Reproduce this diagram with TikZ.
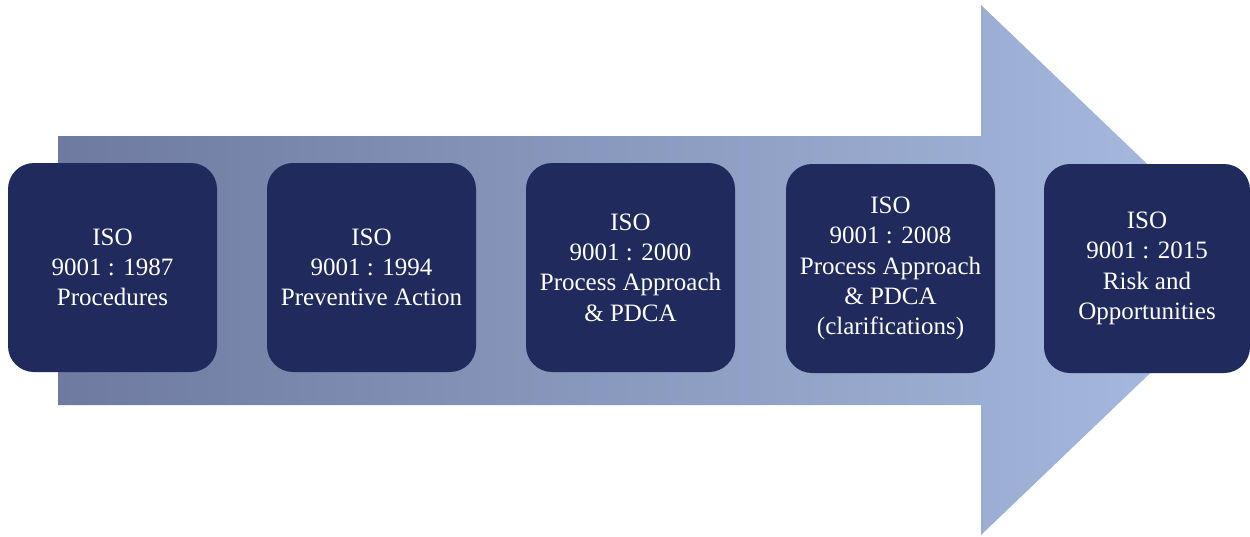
\documentclass[tikz,border=0pt]{standalone}
\usepackage{fontspec}
\setmainfont{Liberation Serif}
\definecolor{boxblue}{RGB}{33,42,92}
\definecolor{arrowleft}{RGB}{110,122,160}
\definecolor{arrowright}{RGB}{170,189,226}
\begin{document}
\begin{tikzpicture}[x=1pt,y=-1pt,
  stagebox/.style={fill=boxblue, rounded corners=26pt, minimum width=209pt,
    minimum height=209pt, inner sep=0pt, text=white, align=center,
    font=\fontsize{25}{30.3}\selectfont}]
  \useasboundingbox (0,0) rectangle (1250,536);
  \clip (0,0) rectangle (1250,536);
  % large block arrow behind the stages
  \shade[left color=arrowleft, right color=arrowright]
    (58,136) -- (981,136) -- (981,5) -- (1258,270) -- (981,535)
    -- (981,405) -- (58,405) -- cycle;
  % stages
  \node[stagebox] (s1) at (112.5,267.5) {ISO\\9001 : 1987\\Procedures};
  \node[stagebox] (s2) at (371.5,267.5) {ISO\\9001 : 1994\\Preventive Action};
  \node[stagebox] (s3) at (630.5,267.5) {ISO\\9001 : 2000\\Process Approach\\\& PDCA};
  \node[stagebox] (s4) at (890.5,268.5) {ISO\\9001 : 2008\\Process Approach\\\& PDCA\\(clarifications)};
  \node[stagebox, minimum width=206pt] (s5) at (1147,268.5) {ISO\\9001 : 2015\\Risk and\\Opportunities};
\end{tikzpicture}
\end{document}
